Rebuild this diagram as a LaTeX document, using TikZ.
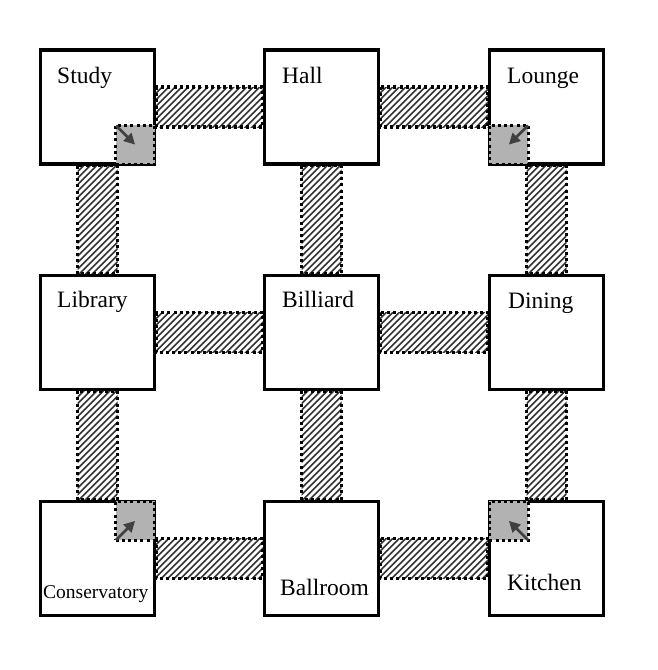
\documentclass[tikz,border=0pt]{standalone}
\usepackage{fontspec}
\setmainfont{Liberation Serif}
\usetikzlibrary{arrows.meta}
\tikzset{
  room/.style={draw=black, fill=white, line width=3.4pt, minimum size=114pt, inner sep=0pt, shape=rectangle},
  dotborder/.style={draw=black, line width=3.2pt, dash pattern=on 3pt off 3.2pt},
  hatch/.style={draw=black!80, line width=1.5pt},
  secret/.style={draw=black, fill=black!30, line width=3.2pt, dash pattern=on 3pt off 3.2pt, minimum size=39pt, inner sep=0pt, shape=rectangle},
  sparrow/.style={draw=black!75, line width=2.6pt, -{Triangle[length=11pt,width=11pt]}},
  lbl/.style={font=\fontsize{23.5}{26}\selectfont, inner sep=0pt, anchor=base west},
  lblsmall/.style={font=\fontsize{19.5}{22}\selectfont, inner sep=0pt, anchor=base west}
}
\newcommand{\corridorfill}[2]{%
  \begin{scope}
    \clip (#1) rectangle (#2);
    \begin{scope}[shift={(#1)}]
      \foreach \t in {-170,-163.5,...,130}
        \draw[hatch] (\t,150) -- ++(170,-170);
    \end{scope}
  \end{scope}
  \draw[dotborder] (#1) rectangle (#2);
}
\begin{document}
\begin{tikzpicture}[x=1pt,y=-1pt]
\useasboundingbox (0,0) rectangle (657,670);
% room positions
\path node[room,draw=none,fill=none] (study) at (97.5,107) {}
      node[room,draw=none,fill=none] (hall) at (321.5,107) {}
      node[room,draw=none,fill=none] (lounge) at (546.5,107) {}
      node[room,draw=none,fill=none] (library) at (97.5,332.5) {}
      node[room,draw=none,fill=none] (billiard) at (321.5,332.5) {}
      node[room,draw=none,fill=none] (dining) at (546.5,332.5) {}
      node[room,draw=none,fill=none] (conservatory) at (97.5,558.5) {}
      node[room,draw=none,fill=none] (ballroom) at (321.5,558.5) {}
      node[room,draw=none,fill=none] (kitchen) at (546.5,558.5) {};
% horizontal corridors
\foreach \a/\b in {study/hall, hall/lounge, library/billiard, billiard/dining, conservatory/ballroom, ballroom/kitchen}{
  \coordinate (ca) at ([yshift=20pt]\a.east);
  \coordinate (cb) at ([yshift=-20pt]\b.west);
  \corridorfill{ca}{cb}
}
% vertical corridors
\foreach \a/\b in {study/library, library/conservatory, hall/billiard, billiard/ballroom, lounge/dining, dining/kitchen}{
  \coordinate (ca) at ([xshift=-20pt]\a.south);
  \coordinate (cb) at ([xshift=20pt]\b.north);
  \corridorfill{ca}{cb}
}
% rooms
\foreach \r in {study,hall,lounge,library,billiard,dining,conservatory,ballroom,kitchen}
  \node[room] (\r box) at (\r.center) {};
% secret passages
\node[secret, anchor=south east] (s1) at (study.south east) {};
\node[secret, anchor=south west] (s2) at (lounge.south west) {};
\node[secret, anchor=north east] (s3) at (conservatory.north east) {};
\node[secret, anchor=north west] (s4) at (kitchen.north west) {};
\draw[sparrow] ([shift={(2pt,-2pt)}]s1.north west) -- (s1.center);
\draw[sparrow] ([shift={(-2pt,-2pt)}]s2.north east) -- (s2.center);
\draw[sparrow] ([shift={(2pt,2pt)}]s3.south west) -- (s3.center);
\draw[sparrow] ([shift={(-2pt,2pt)}]s4.south east) -- (s4.center);
% labels
\node[lbl] (tstudy) at (57,83) {Study};
\node[lbl] (thall) at (282,83) {Hall};
\node[lbl] (tlounge) at (507,83) {Lounge};
\node[lbl] (tlibrary) at (57,307) {Library};
\node[lbl] (tbilliard) at (282,307) {Billiard};
\node[lbl] (tdining) at (508,308) {Dining};
\node[lblsmall] (tconservatory) at (43,598) {Conservatory};
\node[lbl] (tballroom) at (280,595) {Ballroom};
\node[lbl] (tkitchen) at (507,590) {Kitchen};
\end{tikzpicture}
\end{document}
